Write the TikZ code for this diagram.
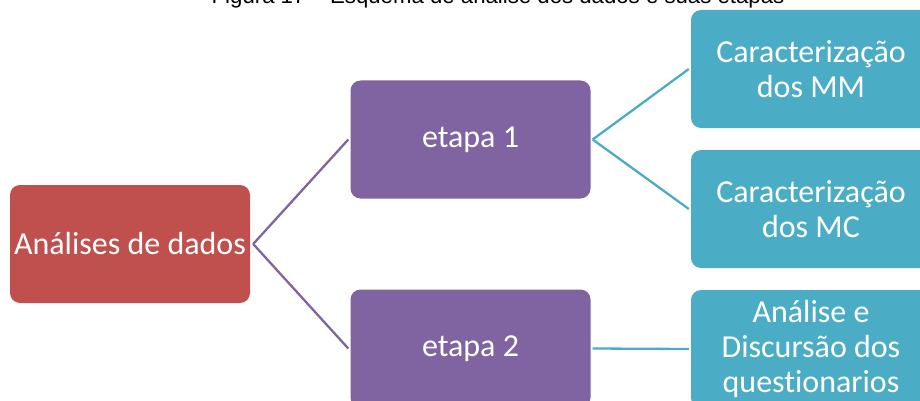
\documentclass[tikz,border=0pt]{standalone}
\usepackage{fontspec}
\setmainfont{Carlito}[Ligatures=NoCommon]
\newfontfamily\captionfont{Liberation Sans}
\definecolor{rootred}{HTML}{C0504D}
\definecolor{stagepurple}{HTML}{8064A2}
\definecolor{leafcyan}{HTML}{4BACC6}
\begin{document}
\begin{tikzpicture}[x=1pt,y=-1pt,
  box/.style={rectangle, rounded corners=10pt, minimum width=240pt, minimum height=118pt,
    inner sep=0pt, text=white, align=center, font=\fontsize{32}{35}\selectfont},
  rootbox/.style={box, fill=rootred},
  stagebox/.style={box, fill=stagepurple},
  leafbox/.style={box, fill=leafcyan},
  stagelink/.style={draw=stagepurple, line width=2.3pt},
  leaflink/.style={draw=leafcyan, line width=2.3pt}]
\useasboundingbox (0,0) rectangle (920,401);

% caption line above the chart
\node[anchor=base, inner sep=0pt, font=\captionfont\fontsize{22.2}{26}\selectfont] (cap) at (498,4)
  {Figura 17 – Esquema de análise dos dados e suas etapas};

% boxes
\node[rootbox] (root) at (130,244) {Análises de dados};
\node[stagebox] (e1) at (470.5,139.5) {etapa 1};
\node[stagebox] (e2) at (470.5,348.5) {etapa 2};
\node[leafbox] (mm) at (811,69) {Caracterização\\dos MM};
\node[leafbox] (mc) at (811,209) {Caracterização\\dos MC};
\node[leafbox] (q) at (811,349) {Análise e\\Discursão dos\\questionarios};

% connectors
\draw[stagelink] ([xshift=3pt]root.east) -- ([xshift=-2pt]e1.west);
\draw[stagelink] ([xshift=3pt]root.east) -- ([xshift=-2pt]e2.west);
\draw[leaflink] ([xshift=2pt]e1.east) -- ([xshift=-2pt]mm.west);
\draw[leaflink] ([xshift=2pt]e1.east) -- ([xshift=-2pt]mc.west);
\draw[leaflink] ([xshift=2pt]e2.east) -- ([xshift=-2pt]q.west);
\end{tikzpicture}
\end{document}
